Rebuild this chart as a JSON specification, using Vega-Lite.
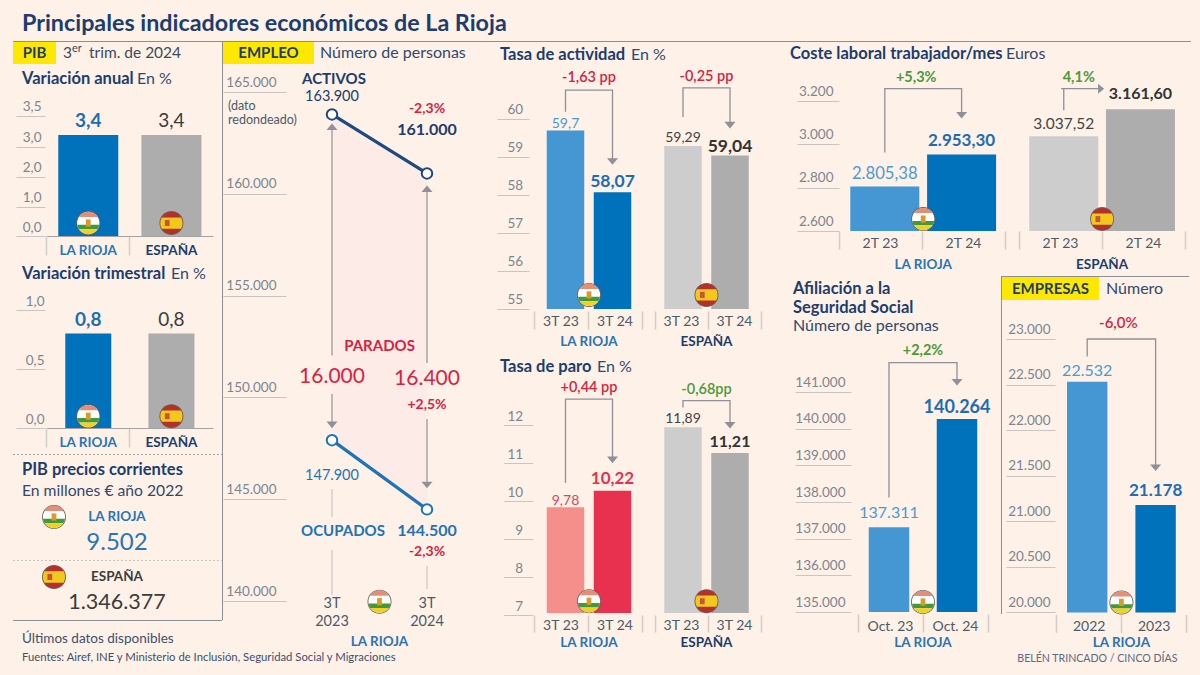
{"$schema":"https://vega.github.io/schema/vega-lite/v6.json","background":"#fdf1e8","padding":{"left":12,"top":0,"right":10,"bottom":10},"bounds":"flush","spacing":0,
"config":{"font":"Lato","view":{"stroke":null},"axisY":{"domain":false,"grid":false,"labelBaseline":"bottom","labelColor":"#7d8590","tickColor":"#c9c5c2","labelFontSize":13.5,"labelPadding":0},"axisX":{"domain":false,"grid":false,"bandPosition":0,"labelAngle":0,"tickColor":"#d2cdc8","tickWidth":1.5,"labelBaseline":"middle","labelFontSize":14,"labelColor":"#4e5a68"}},
"vconcat":[
{"width":2,"height":41,"data":{"values":[{}]},"mark":{"type":"text","text":"Principales indicadores económicos de La Rioja","align":"left","dx":8,"dy":3,"fontSize":23.3,"fontWeight":"bold","color":"#1c3d6e"}},
{"width":1178,"height":1,"view":{"fill":"#8b8f96","stroke":null},"data":{"values":[{}]},"mark":{"type":"text","text":""}},
{"hconcat":[
{"vconcat":[
{"hconcat":[
{"width":43,"height":22,"view":{"fill":"#ffe800","stroke":null},"data":{"values":[{}]},"mark":{"type":"text","text":"PIB","fontWeight":"bold","fontSize":15,"color":"#1c3d6e"}},
{"width":2,"height":22,"data":{"values":[{}]},"layer":[{"mark":{"type":"text","text":"3","align":"left","dx":6,"fontSize":15.5,"color":"#3f4a5c"}},{"mark":{"type":"text","text":"er","align":"left","dx":15,"dy":-4,"fontSize":11,"color":"#3f4a5c"}},{"mark":{"type":"text","text":"trim. de 2024","align":"left","dx":32,"fontSize":15.5,"color":"#3f4a5c"}}]}
],"bounds":"flush","spacing":0},
{"width":1,"height":22,"data":{"values":[{}]},"mark":{"type":"text","text":""}},
{"width":2,"height":30,"data":{"values":[{}]},"layer":[{"mark":{"type":"text","text":"Variación anual","align":"left","dx":8,"fontSize":16.5,"fontWeight":"bold","color":"#1c3d6e"}},{"mark":{"type":"text","text":"En %","align":"left","dx":123,"fontSize":16,"color":"#33486e"}}]},
{"width":1,"height":21,"data":{"values":[{}]},"mark":{"type":"text","text":""}},
{"width":209,"height":121,"data":{"values":[{"c":"LA RIOJA","v":3.4,"t":"3,4"},{"c":"ESPAÑA","v":3.4,"t":"3,4"}]},
"encoding":{"x":{"field":"c","type":"nominal","sort":null,"scale":{"domain":["LA RIOJA","ESPAÑA"],"range":[33.7,200],"padding":0},"axis":{"title":null,"domain":true,"domainColor":"#a3a3a3","tickSize":19,"labelPadding":-5,"labelFontWeight":"bold","labelFontSize":13.5,"labelColor":{"condition":{"test":"datum.value=='LA RIOJA'","value":"#2a74b8"},"value":"#1c3d6e"}}},"y":{"field":"v","type":"quantitative","scale":{"domain":[0,1,2,3,3.4,3.5],"range":[121,91.5,61.5,31.5,20,0.5]},"axis":{"title":null,"values":[0,1,2,3,3.5],"offset":-32,"tickSize":29,"labelPadding":-25,"labelOffset":-2,"labelExpr":"replace(format(datum.value,'.1f'),'.',',')"}}},
"layer":[
{"mark":{"type":"bar","size":60},"encoding":{"color":{"condition":{"test":"datum.c=='LA RIOJA'","value":"#0071bb"},"value":"#adadad"}}},
{"transform":[{"filter":"datum.c=='LA RIOJA'"}],"mark":{"type":"text","baseline":"bottom","dy":-4,"fontSize":19,"fontWeight":"bold","color":"#1c6db5"},"encoding":{"text":{"field":"t"}}},
{"transform":[{"filter":"datum.c=='ESPAÑA'"}],"mark":{"type":"text","baseline":"bottom","dy":-4,"fontSize":19,"color":"#3c3c3c"},"encoding":{"text":{"field":"t"}}},
{"data":{"values":[{"c":"LA RIOJA","v":0.44,"p":["d","w","r","g","o","e"]},{"c":"ESPAÑA","v":0.44,"p":["d","R","Y","E"]}]},"transform":[{"flatten":["p"]}],"mark":{"type":"point","filled":true,"opacity":1,"size":576},"encoding":{"shape":{"field":"p","type":"nominal","legend":null,"scale":{"domain":["d","w","r","g","o","e","R","Y","E"],"range":["M-1,0A1,1 0 1 1 1,0A1,1 0 1 1 -1,0Z","M-.93,0A.93,.93 0 1 1 .93,0A.93,.93 0 1 1 -.93,0Z","M-.784,-.5A.93,.93 0 0 1 .784,-.5Z","M-.918,.15H.918A.93,.93 0 0 1 .771,.52H-.771A.93,.93 0 0 1 -.918,.15Z","M-.771,.52H.771A.93,.93 0 0 1 -.771,.52Z","M-.2,-.3H.2V.3H-.2Z","M-.93,0A.93,.93 0 1 1 .93,0A.93,.93 0 1 1 -.93,0Z","M-.8025,-.47H.8025A.93,.93 0 0 1 .8025,.47H-.8025A.93,.93 0 0 1 -.8025,-.47Z","M-.55,-.25H-.15V.25H-.55Z"]}},"color":{"field":"p","type":"nominal","legend":null,"scale":{"domain":["d","w","r","g","o","e","R","Y","E"],"range":["#6d6258","#ffffff","#e58d76","#3f9a3c","#f2d21f","#d99a2b","#b5302a","#f3c81c","#c8553a"]}}}}
]},
{"width":2,"height":74,"data":{"values":[{}]},"layer":[{"mark":{"type":"text","text":"Variación trimestral","align":"left","dx":8,"dy":1,"fontSize":16.5,"fontWeight":"bold","color":"#1c3d6e"}},{"mark":{"type":"text","text":"En %","align":"left","dx":157,"dy":1,"fontSize":16,"color":"#33486e"}}]},
{"width":209,"height":118,"data":{"values":[{"c":"LA RIOJA","v":0.8,"t":"0,8"},{"c":"ESPAÑA","v":0.8,"t":"0,8"}]},
"encoding":{"x":{"field":"c","type":"nominal","sort":null,"scale":{"domain":["LA RIOJA","ESPAÑA"],"range":[33.7,200],"padding":0},"axis":{"title":null,"domain":true,"domainColor":"#a3a3a3","tickSize":19,"labelPadding":-5,"labelFontWeight":"bold","labelFontSize":13.5,"labelColor":{"condition":{"test":"datum.value=='LA RIOJA'","value":"#2a74b8"},"value":"#1c3d6e"}}},"y":{"field":"v","type":"quantitative","scale":{"domain":[0,1]},"axis":{"title":null,"values":[0,0.5,1],"offset":-32,"tickSize":29,"labelPadding":-28,"labelOffset":-2,"labelExpr":"replace(format(datum.value,'.1f'),'.',',')"}}},
"layer":[
{"mark":{"type":"bar","size":46},"encoding":{"color":{"condition":{"test":"datum.c=='LA RIOJA'","value":"#0071bb"},"value":"#adadad"}}},
{"transform":[{"filter":"datum.c=='LA RIOJA'"}],"mark":{"type":"text","baseline":"bottom","dy":-4,"fontSize":19,"fontWeight":"bold","color":"#1c6db5"},"encoding":{"text":{"field":"t"}}},
{"transform":[{"filter":"datum.c=='ESPAÑA'"}],"mark":{"type":"text","baseline":"bottom","dy":-4,"fontSize":19,"color":"#3c3c3c"},"encoding":{"text":{"field":"t"}}},
{"data":{"values":[{"c":"LA RIOJA","v":0.1,"p":["d","w","r","g","o","e"]},{"c":"ESPAÑA","v":0.1,"p":["d","R","Y","E"]}]},"transform":[{"flatten":["p"]}],"mark":{"type":"point","filled":true,"opacity":1,"size":576},"encoding":{"shape":{"field":"p","type":"nominal","legend":null},"color":{"field":"p","type":"nominal","legend":null}}}
]},
{"width":1,"height":26,"data":{"values":[{}]},"mark":{"type":"text","text":""}},
{"width":209,"height":1,"mark":{"type":"rule","strokeDash":[2,2],"color":"#a5a09a"},"data":{"values":[{}]},"encoding":{"x":{"datum":0,"type":"quantitative","scale":{"domain":[0,1]},"axis":null},"x2":{"datum":1}}},
{"width":2,"height":30,"data":{"values":[{}]},"mark":{"type":"text","text":"PIB precios corrientes","align":"left","dx":8,"fontSize":16.5,"fontWeight":"bold","color":"#1c3d6e"}},
{"width":2,"height":12,"data":{"values":[{}]},"mark":{"type":"text","text":"En millones € año 2022","align":"left","dx":8,"fontSize":15.7,"color":"#33486e"}},
{"width":1,"height":8,"data":{"values":[{}]},"mark":{"type":"text","text":""}},
{"width":82,"height":24,"layer":[{"data":{"values":[{"p":["d","w","r","g","o","e"]}]},"transform":[{"flatten":["p"]}],"mark":{"type":"point","filled":true,"opacity":1,"size":576},"encoding":{"shape":{"field":"p","type":"nominal","legend":null},"color":{"field":"p","type":"nominal","legend":null}}},{"data":{"values":[{}]},"mark":{"type":"text","text":"LA RIOJA","dx":63,"fontSize":13.5,"fontWeight":"bold","color":"#2a74b8"}}]},
{"width":2,"height":26,"data":{"values":[{}]},"mark":{"type":"text","text":"9.502","dx":103,"dy":1,"fontSize":24,"color":"#2a74b8"}},
{"width":1,"height":5,"data":{"values":[{}]},"mark":{"type":"text","text":""}},
{"width":209,"height":1,"mark":{"type":"rule","strokeDash":[2,2],"color":"#c9c4be"},"data":{"values":[{}]},"encoding":{"x":{"datum":0,"type":"quantitative","scale":{"domain":[0,1]},"axis":null},"x2":{"datum":1}}},
{"width":82,"height":32,"layer":[{"data":{"values":[{"p":["d","R","Y","E"]}]},"transform":[{"flatten":["p"]}],"mark":{"type":"point","filled":true,"opacity":1,"size":576},"encoding":{"shape":{"field":"p","type":"nominal","legend":null},"color":{"field":"p","type":"nominal","legend":null}}},{"data":{"values":[{}]},"mark":{"type":"text","text":"ESPAÑA","dx":63,"fontSize":13.5,"fontWeight":"bold","color":"#3c3c3c"}}]},
{"width":2,"height":20,"data":{"values":[{}]},"mark":{"type":"text","text":"1.346.377","dx":103,"fontSize":21.5,"color":"#3c3c3c"}},
{"width":1,"height":7,"data":{"values":[{}]},"mark":{"type":"text","text":""}},
{"width":209,"height":1,"view":{"fill":"#8b8f96","stroke":null},"data":{"values":[{}]},"mark":{"type":"text","text":""}},
{"width":2,"height":36,"data":{"values":[{}]},"mark":{"type":"text","text":"Últimos datos disponibles","align":"left","dx":8,"fontSize":13.5,"color":"#3f4f6b"}},
{"width":2,"height":2,"data":{"values":[{}]},"mark":{"type":"text","text":"Fuentes: Airef, INE y Ministerio de Inclusión, Seguridad Social y Migraciones","align":"left","dx":8,"fontSize":11.3,"color":"#3f4f6b"}}
],"bounds":"flush","spacing":0},
{"width":209,"height":1,"data":{"values":[{}]},"mark":{"type":"text","text":""}},
{"width":1,"height":578,"view":{"fill":"#8b8f96","stroke":null},"data":{"values":[{}]},"mark":{"type":"text","text":""}},
{"vconcat":[
{"hconcat":[
{"width":91,"height":22,"view":{"fill":"#ffe800","stroke":null},"data":{"values":[{}]},"mark":{"type":"text","text":"EMPLEO","fontWeight":"bold","fontSize":15,"color":"#1c3d6e"}},
{"width":2,"height":22,"data":{"values":[{}]},"mark":{"type":"text","text":"Número de personas","align":"left","dx":5,"fontSize":16,"color":"#33486e"}}
],"bounds":"flush","spacing":0},
{"width":1,"height":50,"data":{"values":[{}]},"mark":{"type":"text","text":""}},
{"width":268,"height":509,
"encoding":{"x":{"field":"c","type":"nominal","scale":{"domain":["3T 2023","3T 2024"],"range":[61.5,251.5],"padding":0},"axis":null},"y":{"field":"v","type":"quantitative","scale":{"domain":[140000,165000]},"axis":{"title":null,"values":[140000,145000,150000,155000,160000,165000],"offset":-63,"tickSize":63,"labelPadding":-53,"labelOffset":-3,"labelExpr":"replace(format(datum.value,','),',','.')"}}},
"layer":[
{"data":{"values":[{"c":"3T 2023","v":163900,"v2":147900},{"c":"3T 2024","v":161000,"v2":144500}]},"mark":{"type":"area","color":"#fcebe7"},"encoding":{"y2":{"field":"v2"}}},
{"data":{"values":[{"c":"3T 2023","v":163292,"v2":152054},{"c":"3T 2024","v":160246,"v2":151695},{"c":"3T 2023","v":150172,"v2":148649},{"c":"3T 2024","v":148943,"v2":145700}]},"mark":{"type":"rule","color":"#9a9a9e","strokeWidth":1.3},"encoding":{"y2":{"field":"v2"}}},
{"data":{"values":[{"c":"3T 2023","v":145504,"v2":144128},{"c":"3T 2023","v":142506,"v2":140295},{"c":"3T 2024","v":141720,"v2":140590}]},"mark":{"type":"rule","color":"#cfcac6","strokeWidth":1.3},"encoding":{"y2":{"field":"v2"}}},
{"data":{"values":[{"c":"3T 2023","v":163292},{"c":"3T 2024","v":160246}]},"mark":{"type":"point","filled":true,"opacity":1,"size":121,"color":"#8f9098","shape":"M-1,.6H1L0,-.6Z"}},
{"data":{"values":[{"c":"3T 2023","v":148649},{"c":"3T 2024","v":145700}]},"mark":{"type":"point","filled":true,"opacity":1,"size":121,"color":"#8f9098","shape":"M-1,-.6H1L0,.6Z"}},
{"data":{"values":[{"c":"3T 2023","v":163900},{"c":"3T 2024","v":161000}]},"mark":{"type":"line","color":"#1d4a80","strokeWidth":3.2}},
{"data":{"values":[{"c":"3T 2023","v":147900},{"c":"3T 2024","v":144500}]},"mark":{"type":"line","color":"#1f73b7","strokeWidth":3.2}},
{"data":{"values":[{"c":"3T 2023","v":163900},{"c":"3T 2024","v":161000}]},"mark":{"type":"point","filled":true,"opacity":1,"fill":"#ffffff","stroke":"#1d4a80","strokeWidth":2,"size":110}},
{"data":{"values":[{"c":"3T 2023","v":147900},{"c":"3T 2024","v":144500}]},"mark":{"type":"point","filled":true,"opacity":1,"fill":"#ffffff","stroke":"#1f73b7","strokeWidth":2,"size":110}},
{"data":{"values":[{"c":"3T 2023","v":165651,"t":"ACTIVOS"}]},"mark":{"type":"text","dx":2,"fontSize":15,"fontWeight":"bold","color":"#1c3d6e"},"encoding":{"text":{"field":"t"}}},
{"data":{"values":[{"c":"3T 2023","v":164733,"t":"163.900"}]},"mark":{"type":"text","fontSize":14.5,"color":"#1c3d6e"},"encoding":{"text":{"field":"t"}}},
{"data":{"values":[{"c":"3T 2023","v":164290,"t":"(dato"},{"c":"3T 2023","v":163602,"t":"redondeado)"}]},"mark":{"type":"text","align":"left","dx":-104,"fontSize":12.5,"color":"#4e5a68"},"encoding":{"text":{"field":"t"}}},
{"data":{"values":[{"c":"3T 2024","v":164162,"t":"-2,3%"},{"c":"3T 2024","v":149646,"t":"+2,5%"},{"c":"3T 2024","v":142393,"t":"-2,3%"}]},"mark":{"type":"text","fontSize":14,"fontWeight":"bold","color":"#d8233f"},"encoding":{"text":{"field":"t"}}},
{"data":{"values":[{"c":"3T 2024","v":163145,"t":"161.000"}]},"mark":{"type":"text","fontSize":16,"fontWeight":"bold","color":"#1c3d6e"},"encoding":{"text":{"field":"t"}}},
{"data":{"values":[{"c":"3T 2023","v":152546,"t":"PARADOS"}]},"mark":{"type":"text","fontSize":15,"fontWeight":"bold","color":"#d8233f"},"encoding":{"x":{"field":"c","type":"nominal","bandPosition":1,"axis":null},"text":{"field":"t"}}},
{"data":{"values":[{"c":"3T 2023","v":150993,"t":"16.000"},{"c":"3T 2024","v":150909,"t":"16.400"}]},"mark":{"type":"text","fontSize":21,"color":"#d8233f"},"encoding":{"text":{"field":"t"}}},
{"data":{"values":[{"c":"3T 2023","v":146157,"t":"147.900"}]},"mark":{"type":"text","fontSize":14.5,"color":"#1f73b7"},"encoding":{"text":{"field":"t"}}},
{"data":{"values":[{"c":"3T 2023","v":143425,"t":"OCUPADOS"}]},"mark":{"type":"text","dx":11,"fontSize":15,"fontWeight":"bold","color":"#1f73b7"},"encoding":{"text":{"field":"t"}}},
{"data":{"values":[{"c":"3T 2024","v":143425,"t":"144.500"}]},"mark":{"type":"text","fontSize":16,"fontWeight":"bold","color":"#1f73b7"},"encoding":{"text":{"field":"t"}}},
{"data":{"values":[{"c":"3T 2023","v":139867,"t":"3T"},{"c":"3T 2023","v":138953,"t":"2023"},{"c":"3T 2024","v":139867,"t":"3T"},{"c":"3T 2024","v":138953,"t":"2024"}]},"mark":{"type":"text","fontSize":14.5,"color":"#4e5a68"},"encoding":{"text":{"field":"t"}}},
{"data":{"values":[{"c":"3T 2023","v":137971,"t":"LA RIOJA"}]},"mark":{"type":"text","fontSize":13.5,"fontWeight":"bold","color":"#2a74b8"},"encoding":{"x":{"field":"c","type":"nominal","bandPosition":1,"axis":null},"text":{"field":"t"}}},
{"data":{"values":[{"c":"3T 2023","v":139965,"p":["d","w","r","g","o","e"]}]},"transform":[{"flatten":["p"]}],"mark":{"type":"point","filled":true,"opacity":1,"size":576},"encoding":{"x":{"field":"c","type":"nominal","bandPosition":1,"axis":null},"shape":{"field":"p","type":"nominal","legend":null},"color":{"field":"p","type":"nominal","legend":null}}}
]}
],"bounds":"flush","spacing":0},
{"width":268,"height":1,"data":{"values":[{}]},"mark":{"type":"text","text":""}},
{"vconcat":[
{"width":2,"height":26,"data":{"values":[{}]},"layer":[{"mark":{"type":"text","text":"Tasa de actividad","align":"left","dx":8,"fontSize":16.5,"fontWeight":"bold","color":"#1c3d6e"}},{"mark":{"type":"text","text":"En %","align":"left","dx":139,"fontSize":16,"color":"#33486e"}}]},
{"width":1,"height":51,"data":{"values":[{}]},"mark":{"type":"text","text":""}},
{"hconcat":[
{"width":164,"height":190,"resolve":{"scale":{"x":"independent"}},"layer":[
{"data":{"values":[{"c":"3T 23"},{"c":"3T 24"}]},"mark":{"type":"text","text":""},"encoding":{"x":{"field":"c","type":"nominal","scale":{"type":"band","domain":["3T 23","3T 24","_"],"range":[43,205],"padding":0},"axis":{"title":null,"offset":2,"tickSize":18,"labelPadding":-7.6,"labelExpr":"datum.value=='_'?'':datum.label"}}}},
{"data":{"values":[{"c":"3T 23","v":59.7,"t":"59,7"},{"c":"3T 24","v":58.07,"t":"58,07"}]},"encoding":{"x":{"field":"c","type":"nominal","scale":{"domain":["3T 23","3T 24"],"range":[51,145],"padding":0},"axis":null},"y":{"field":"v","type":"quantitative","scale":{"domain":[55,60]},"axis":{"title":null,"values":[55,56,57,58,59,60],"offset":-38,"tickSize":32,"labelPadding":-25.7,"labelOffset":-3}}},
"layer":[
{"mark":{"type":"bar","size":37.5},"encoding":{"y2":{"datum":55},"color":{"condition":{"test":"datum.c=='3T 23'","value":"#4597d3"},"value":"#0071bb"}}},
{"transform":[{"filter":"datum.c=='3T 23'"}],"mark":{"type":"text","baseline":"bottom","dy":1,"fontSize":14,"color":"#4b9ad5"},"encoding":{"text":{"field":"t"}}},
{"transform":[{"filter":"datum.c=='3T 24'"}],"mark":{"type":"text","baseline":"bottom","dy":-1,"fontSize":17.5,"fontWeight":"bold","color":"#1c6db5"},"encoding":{"text":{"field":"t"}}},
{"data":{"values":[{"c":"3T 23","v":60.19,"i":0},{"c":"3T 23","v":60.76,"i":1},{"c":"3T 24","v":60.76,"i":2},{"c":"3T 24","v":58.88,"i":3}]},"mark":{"type":"line","color":"#8f9098","strokeWidth":1.3},"encoding":{"order":{"field":"i","type":"quantitative"}}},
{"data":{"values":[{"c":"3T 24","v":58.88}]},"mark":{"type":"point","filled":true,"opacity":1,"size":121,"color":"#8f9098","shape":"M-1,-.6H1L0,.6Z"}},
{"data":{"values":[{"c":"3T 23","v":61.08,"t":"-1,63 pp"}]},"mark":{"type":"text","fontSize":14.5,"fontWeight":600,"color":"#d8233f"},"encoding":{"x":{"field":"c","type":"nominal","bandPosition":1,"axis":null},"text":{"field":"t"}}},
{"data":{"values":[{"c":"3T 23","v":54.12,"t":"LA RIOJA"}]},"mark":{"type":"text","fontSize":13.5,"fontWeight":"bold","color":"#2a74b8"},"encoding":{"x":{"field":"c","type":"nominal","bandPosition":1,"axis":null},"text":{"field":"t"}}},
{"data":{"values":[{"c":"3T 23","v":55.37,"p":["d","w","r","g","o","e"]}]},"transform":[{"flatten":["p"]}],"mark":{"type":"point","filled":true,"opacity":1,"size":576},"encoding":{"x":{"field":"c","type":"nominal","bandPosition":1,"axis":null},"shape":{"field":"p","type":"nominal","legend":null},"color":{"field":"p","type":"nominal","legend":null}}}
]}]},
{"width":130,"height":190,"resolve":{"scale":{"x":"independent"}},"layer":[
{"data":{"values":[{"c":"3T 23"},{"c":"3T 24"}]},"mark":{"type":"text","text":""},"encoding":{"x":{"field":"c","type":"nominal","scale":{"type":"band","domain":["3T 23","3T 24","_"],"range":[0,159],"padding":0},"axis":{"title":null,"offset":2,"tickSize":18,"labelPadding":-7.6,"labelExpr":"datum.value=='_'?'':datum.label"}}}},
{"data":{"values":[{"c":"3T 23","v":59.29,"t":"59,29"},{"c":"3T 24","v":59.04,"t":"59,04"}]},"encoding":{"x":{"field":"c","type":"nominal","scale":{"domain":["3T 23","3T 24"],"range":[4.5,98.5],"padding":0},"axis":null},"y":{"field":"v","type":"quantitative","scale":{"domain":[55,60]},"axis":null}},
"layer":[
{"mark":{"type":"bar","size":37.5},"encoding":{"y2":{"datum":55},"color":{"condition":{"test":"datum.c=='3T 23'","value":"#cdcdcd"},"value":"#adadad"}}},
{"transform":[{"filter":"datum.c=='3T 23'"}],"mark":{"type":"text","baseline":"bottom","dy":-1,"fontSize":14,"color":"#444444"},"encoding":{"text":{"field":"t"}}},
{"transform":[{"filter":"datum.c=='3T 24'"}],"mark":{"type":"text","baseline":"bottom","dy":1,"fontSize":17.5,"fontWeight":"bold","color":"#333333"},"encoding":{"text":{"field":"t"}}},
{"data":{"values":[{"c":"3T 23","v":60.05,"i":0},{"c":"3T 23","v":60.82,"i":1},{"c":"3T 24","v":60.82,"i":2},{"c":"3T 24","v":59.84,"i":3}]},"mark":{"type":"line","color":"#8f9098","strokeWidth":1.3},"encoding":{"order":{"field":"i","type":"quantitative"}}},
{"data":{"values":[{"c":"3T 24","v":59.84}]},"mark":{"type":"point","filled":true,"opacity":1,"size":121,"color":"#8f9098","shape":"M-1,-.6H1L0,.6Z"}},
{"data":{"values":[{"c":"3T 23","v":61.1,"t":"-0,25 pp"}]},"mark":{"type":"text","fontSize":14.5,"fontWeight":600,"color":"#d8233f"},"encoding":{"x":{"field":"c","type":"nominal","bandPosition":1,"axis":null},"text":{"field":"t"}}},
{"data":{"values":[{"c":"3T 23","v":54.12,"t":"ESPAÑA"}]},"mark":{"type":"text","fontSize":13.5,"fontWeight":"bold","color":"#1c3d6e"},"encoding":{"x":{"field":"c","type":"nominal","bandPosition":1,"axis":null},"text":{"field":"t"}}},
{"data":{"values":[{"c":"3T 23","v":55.37,"p":["d","R","Y","E"]}]},"transform":[{"flatten":["p"]}],"mark":{"type":"point","filled":true,"opacity":1,"size":576},"encoding":{"x":{"field":"c","type":"nominal","bandPosition":1,"axis":null},"shape":{"field":"p","type":"nominal","legend":null},"color":{"field":"p","type":"nominal","legend":null}}}
]}]}
],"bounds":"flush","spacing":0},
{"width":1,"height":190,"data":{"values":[{}]},"mark":{"type":"text","text":""}},
{"width":2,"height":114,"data":{"values":[{}]},"layer":[{"mark":{"type":"text","text":"Tasa de paro","align":"left","dx":8,"dy":1,"fontSize":16.5,"fontWeight":"bold","color":"#1c3d6e"}},{"mark":{"type":"text","text":"En %","align":"left","dx":105,"dy":1,"fontSize":16,"color":"#33486e"}}]},
{"hconcat":[
{"width":164,"height":190,"resolve":{"scale":{"x":"independent"}},"layer":[
{"data":{"values":[{"c":"3T 23"},{"c":"3T 24"}]},"mark":{"type":"text","text":""},"encoding":{"x":{"field":"c","type":"nominal","scale":{"type":"band","domain":["3T 23","3T 24","_"],"range":[43,205],"padding":0},"axis":{"title":null,"offset":2,"tickSize":17,"labelPadding":-6.3,"labelExpr":"datum.value=='_'?'':datum.label"}}}},
{"data":{"values":[{"c":"3T 23","v":9.78,"t":"9,78"},{"c":"3T 24","v":10.22,"t":"10,22"}]},"encoding":{"x":{"field":"c","type":"nominal","scale":{"domain":["3T 23","3T 24"],"range":[51,145],"padding":0},"axis":null},"y":{"field":"v","type":"quantitative","scale":{"domain":[7,12]},"axis":{"title":null,"values":[7,8,9,10,11,12],"offset":-41.7,"tickSize":29,"labelPadding":-19,"tickOffset":2,"labelOffset":-2}}},
"layer":[
{"mark":{"type":"bar","size":37.5},"encoding":{"y2":{"datum":7},"color":{"condition":{"test":"datum.c=='3T 23'","value":"#f58f8c"},"value":"#e8304f"}}},
{"transform":[{"filter":"datum.c=='3T 23'"}],"mark":{"type":"text","baseline":"bottom","dy":1,"fontSize":14,"color":"#d8485a"},"encoding":{"text":{"field":"t"}}},
{"transform":[{"filter":"datum.c=='3T 24'"}],"mark":{"type":"text","baseline":"bottom","dy":-3,"fontSize":17,"fontWeight":"bold","color":"#e8304f"},"encoding":{"text":{"field":"t"}}},
{"data":{"values":[{"c":"3T 23","v":10.42,"i":0},{"c":"3T 23","v":12.63,"i":1},{"c":"3T 24","v":12.63,"i":2},{"c":"3T 24","v":11.03,"i":3}]},"mark":{"type":"line","color":"#8f9098","strokeWidth":1.3},"encoding":{"order":{"field":"i","type":"quantitative"}}},
{"data":{"values":[{"c":"3T 24","v":11.03}]},"mark":{"type":"point","filled":true,"opacity":1,"size":121,"color":"#8f9098","shape":"M-1,-.6H1L0,.6Z"}},
{"data":{"values":[{"c":"3T 23","v":12.92,"t":"+0,44 pp"}]},"mark":{"type":"text","fontSize":14.5,"fontWeight":600,"color":"#d8233f"},"encoding":{"x":{"field":"c","type":"nominal","bandPosition":1,"axis":null},"text":{"field":"t"}}},
{"data":{"values":[{"c":"3T 23","v":6.21,"t":"LA RIOJA"}]},"mark":{"type":"text","fontSize":13.5,"fontWeight":"bold","color":"#2a74b8"},"encoding":{"x":{"field":"c","type":"nominal","bandPosition":1,"axis":null},"text":{"field":"t"}}},
{"data":{"values":[{"c":"3T 23","v":7.31,"p":["d","w","r","g","o","e"]}]},"transform":[{"flatten":["p"]}],"mark":{"type":"point","filled":true,"opacity":1,"size":576},"encoding":{"x":{"field":"c","type":"nominal","bandPosition":1,"axis":null},"shape":{"field":"p","type":"nominal","legend":null},"color":{"field":"p","type":"nominal","legend":null}}}
]}]},
{"width":130,"height":190,"resolve":{"scale":{"x":"independent"}},"layer":[
{"data":{"values":[{"c":"3T 23"},{"c":"3T 24"}]},"mark":{"type":"text","text":""},"encoding":{"x":{"field":"c","type":"nominal","scale":{"type":"band","domain":["3T 23","3T 24","_"],"range":[0,159],"padding":0},"axis":{"title":null,"offset":2,"tickSize":17,"labelPadding":-6.3,"labelExpr":"datum.value=='_'?'':datum.label"}}}},
{"data":{"values":[{"c":"3T 23","v":11.89,"t":"11,89"},{"c":"3T 24","v":11.21,"t":"11,21"}]},"encoding":{"x":{"field":"c","type":"nominal","scale":{"domain":["3T 23","3T 24"],"range":[4.5,98.5],"padding":0},"axis":null},"y":{"field":"v","type":"quantitative","scale":{"domain":[7,12]},"axis":null}},
"layer":[
{"mark":{"type":"bar","size":37.5},"encoding":{"y2":{"datum":7},"color":{"condition":{"test":"datum.c=='3T 23'","value":"#cdcdcd"},"value":"#adadad"}}},
{"transform":[{"filter":"datum.c=='3T 23'"}],"mark":{"type":"text","baseline":"bottom","dy":-1,"fontSize":14,"color":"#444444"},"encoding":{"text":{"field":"t"}}},
{"transform":[{"filter":"datum.c=='3T 24'"}],"mark":{"type":"text","baseline":"bottom","dy":-3,"fontSize":16,"fontWeight":"bold","color":"#333333"},"encoding":{"text":{"field":"t"}}},
{"data":{"values":[{"c":"3T 23","v":12.41,"i":0},{"c":"3T 23","v":12.59,"i":1},{"c":"3T 24","v":12.59,"i":2},{"c":"3T 24","v":11.94,"i":3}]},"mark":{"type":"line","color":"#8f9098","strokeWidth":1.3},"encoding":{"order":{"field":"i","type":"quantitative"}}},
{"data":{"values":[{"c":"3T 24","v":11.94}]},"mark":{"type":"point","filled":true,"opacity":1,"size":121,"color":"#8f9098","shape":"M-1,-.6H1L0,.6Z"}},
{"data":{"values":[{"c":"3T 23","v":12.88,"t":"-0,68pp"}]},"mark":{"type":"text","fontSize":14.5,"fontWeight":600,"color":"#4c9a3c"},"encoding":{"x":{"field":"c","type":"nominal","bandPosition":1,"axis":null},"text":{"field":"t"}}},
{"data":{"values":[{"c":"3T 23","v":6.21,"t":"ESPAÑA"}]},"mark":{"type":"text","fontSize":13.5,"fontWeight":"bold","color":"#1c3d6e"},"encoding":{"x":{"field":"c","type":"nominal","bandPosition":1,"axis":null},"text":{"field":"t"}}},
{"data":{"values":[{"c":"3T 23","v":7.31,"p":["d","R","Y","E"]}]},"transform":[{"flatten":["p"]}],"mark":{"type":"point","filled":true,"opacity":1,"size":576},"encoding":{"x":{"field":"c","type":"nominal","bandPosition":1,"axis":null},"shape":{"field":"p","type":"nominal","legend":null},"color":{"field":"p","type":"nominal","legend":null}}}
]}]}
],"bounds":"flush","spacing":0}
],"bounds":"flush","spacing":0},
{"width":290,"height":1,"data":{"values":[{}]},"mark":{"type":"text","text":""}},
{"vconcat":[
{"width":2,"height":26,"data":{"values":[{}]},"layer":[{"mark":{"type":"text","text":"Coste laboral trabajador/mes","align":"left","dx":8,"dy":-1,"fontSize":16.5,"fontWeight":"bold","color":"#1c3d6e"}},{"mark":{"type":"text","text":"Euros","align":"left","dx":224,"dy":-1,"fontSize":16,"color":"#33486e"}}]},
{"width":1,"height":32.7,"data":{"values":[{}]},"mark":{"type":"text","text":""}},
{"hconcat":[
{"width":222,"height":130,"resolve":{"scale":{"x":"independent"}},"layer":[
{"data":{"values":[{"c":"2T 23"},{"c":"2T 24"}]},"mark":{"type":"text","text":""},"encoding":{"x":{"field":"c","type":"nominal","scale":{"type":"band","domain":["2T 23","2T 24","_"],"range":[58,307],"padding":0},"axis":{"title":null,"tickSize":18,"labelPadding":-5.4,"labelExpr":"datum.value=='_'?'':datum.label"}}}},
{"data":{"values":[{"c":"2T 23","v":2805.38,"t":"2.805,38"},{"c":"2T 24","v":2953.3,"t":"2.953,30"}]},"encoding":{"x":{"field":"c","type":"nominal","scale":{"domain":["2T 23","2T 24"],"range":[65.4,219],"padding":0},"axis":null},"y":{"field":"v","type":"quantitative","scale":{"domain":[2600,3200]},"axis":{"title":null,"values":[2600,2800,3000,3200],"offset":-58,"tickSize":42,"labelPadding":-36,"labelOffset":-3,"labelExpr":"replace(format(datum.value,','),',','.')"}}},
"layer":[
{"mark":{"type":"bar","size":69},"encoding":{"y2":{"datum":2600},"color":{"condition":{"test":"datum.c=='2T 23'","value":"#4597d3"},"value":"#0071bb"}}},
{"transform":[{"filter":"datum.c=='2T 23'"}],"mark":{"type":"text","baseline":"bottom","dy":-4,"fontSize":16.7,"color":"#4b9ad5"},"encoding":{"text":{"field":"t"}}},
{"transform":[{"filter":"datum.c=='2T 24'"}],"mark":{"type":"text","baseline":"bottom","dy":-4,"fontSize":17,"fontWeight":"bold","color":"#1c6db5"},"encoding":{"text":{"field":"t"}}},
{"data":{"values":[{"c":"2T 23","v":2962,"i":0},{"c":"2T 23","v":3257,"i":1},{"c":"2T 24","v":3257,"i":2},{"c":"2T 24","v":3134,"i":3}]},"mark":{"type":"line","color":"#8f9098","strokeWidth":1.3},"encoding":{"order":{"field":"i","type":"quantitative"}}},
{"data":{"values":[{"c":"2T 24","v":3134}]},"mark":{"type":"point","filled":true,"opacity":1,"size":121,"color":"#8f9098","shape":"M-1,-.6H1L0,.6Z"}},
{"data":{"values":[{"c":"2T 23","v":3306,"t":"+5,3%"}]},"mark":{"type":"text","dx":-7,"fontSize":14.5,"fontWeight":"bold","color":"#4c9a3c"},"encoding":{"x":{"field":"c","type":"nominal","bandPosition":1,"axis":null},"text":{"field":"t"}}},
{"data":{"values":[{"c":"2T 23","v":2445,"t":"LA RIOJA"}]},"mark":{"type":"text","fontSize":13.5,"fontWeight":"bold","color":"#2a74b8"},"encoding":{"x":{"field":"c","type":"nominal","bandPosition":1,"axis":null},"text":{"field":"t"}}},
{"data":{"values":[{"c":"2T 23","v":2655,"p":["d","w","r","g","o","e"]}]},"transform":[{"flatten":["p"]}],"mark":{"type":"point","filled":true,"opacity":1,"size":576},"encoding":{"x":{"field":"c","type":"nominal","bandPosition":1,"axis":null},"shape":{"field":"p","type":"nominal","legend":null},"color":{"field":"p","type":"nominal","legend":null}}}
]}]},
{"width":180,"height":130,"resolve":{"scale":{"x":"independent"}},"layer":[
{"data":{"values":[{"c":"2T 23"},{"c":"2T 24"}]},"mark":{"type":"text","text":""},"encoding":{"x":{"field":"c","type":"nominal","scale":{"type":"band","domain":["2T 23","2T 24","_"],"range":[16,265],"padding":0},"axis":{"title":null,"tickSize":18,"labelPadding":-5.4,"labelExpr":"datum.value=='_'?'':datum.label"}}}},
{"data":{"values":[{"c":"2T 23","v":3037.52,"t":"3.037,52"},{"c":"2T 24","v":3161.6,"t":"3.161,60"}]},"encoding":{"x":{"field":"c","type":"nominal","scale":{"domain":["2T 23","2T 24"],"range":[22.4,175.8],"padding":0},"axis":null},"y":{"field":"v","type":"quantitative","scale":{"domain":[2600,3200]},"axis":null}},
"layer":[
{"mark":{"type":"bar","size":69},"encoding":{"y2":{"datum":2600},"color":{"condition":{"test":"datum.c=='2T 23'","value":"#cdcdcd"},"value":"#adadad"}}},
{"transform":[{"filter":"datum.c=='2T 23'"}],"mark":{"type":"text","baseline":"bottom","dy":-4,"fontSize":15.5,"color":"#444444"},"encoding":{"text":{"field":"t"}}},
{"transform":[{"filter":"datum.c=='2T 24'"}],"mark":{"type":"text","baseline":"bottom","dy":-7,"fontSize":16,"fontWeight":"bold","color":"#333333"},"encoding":{"text":{"field":"t"}}},
{"data":{"values":[{"c":"2T 23","v":3157,"i":0},{"c":"2T 23","v":3257,"i":1}]},"mark":{"type":"line","color":"#8f9098","strokeWidth":1.3},"encoding":{"order":{"field":"i","type":"quantitative"}}},
{"data":{"values":[{"c":"2T 23","v":3257}]},"mark":{"type":"point","filled":true,"opacity":1,"size":4,"color":"#8f9098","shape":"M-41,-.7H-4V-5L2,0L-4,5V.7H-41Z"},"encoding":{"x":{"field":"c","type":"nominal","bandPosition":1,"axis":null}}},
{"data":{"values":[{"c":"2T 23","v":3306,"t":"4,1%"}]},"mark":{"type":"text","dx":15,"fontSize":14.5,"fontWeight":"bold","color":"#4c9a3c"},"encoding":{"text":{"field":"t"}}},
{"data":{"values":[{"c":"2T 23","v":2445,"t":"ESPAÑA"}]},"mark":{"type":"text","fontSize":13.5,"fontWeight":"bold","color":"#1c3d6e"},"encoding":{"x":{"field":"c","type":"nominal","bandPosition":1,"axis":null},"text":{"field":"t"}}},
{"data":{"values":[{"c":"2T 23","v":2655,"p":["d","R","Y","E"]}]},"transform":[{"flatten":["p"]}],"mark":{"type":"point","filled":true,"opacity":1,"size":576},"encoding":{"x":{"field":"c","type":"nominal","bandPosition":1,"axis":null},"shape":{"field":"p","type":"nominal","legend":null},"color":{"field":"p","type":"nominal","legend":null}}}
]}]}
],"bounds":"flush","spacing":0},
{"width":1,"height":130,"data":{"values":[{}]},"mark":{"type":"text","text":""}},
{"hconcat":[
{"vconcat":[
{"width":2,"height":115,"data":{"values":[{}]},"layer":[{"mark":{"type":"text","text":"Afiliación a la","align":"left","dx":11,"fontSize":16.5,"fontWeight":"bold","color":"#1c3d6e"}},{"mark":{"type":"text","text":"Seguridad Social","align":"left","dx":11,"dy":19,"fontSize":16.5,"fontWeight":"bold","color":"#1c3d6e"}},{"mark":{"type":"text","text":"Número de personas","align":"left","dx":11,"dy":37.5,"fontSize":16,"color":"#33486e"}}]},
{"width":1,"height":45.7,"data":{"values":[{}]},"mark":{"type":"text","text":""}},
{"width":220,"height":220,"resolve":{"scale":{"x":"independent"}},"layer":[
{"data":{"values":[{"c":"Oct. 23"},{"c":"Oct. 24"}]},"mark":{"type":"text","text":""},"encoding":{"x":{"field":"c","type":"nominal","scale":{"type":"band","domain":["Oct. 23","Oct. 24","_"],"range":[77,272],"padding":0},"axis":{"title":null,"offset":2,"tickSize":18,"labelPadding":-5.7,"labelExpr":"datum.value=='_'?'':datum.label"}}}},
{"data":{"values":[{"c":"Oct. 23","v":137311,"t":"137.311"},{"c":"Oct. 24","v":140264,"t":"140.264"}]},"encoding":{"x":{"field":"c","type":"nominal","scale":{"domain":["Oct. 23","Oct. 24"],"range":[74,210],"padding":0},"axis":null},"y":{"field":"v","type":"quantitative","scale":{"domain":[135000,141000]},"axis":{"title":null,"values":[135000,136000,137000,138000,139000,140000,141000],"offset":-70,"tickSize":56,"labelPadding":-50,"labelOffset":-3,"labelExpr":"replace(format(datum.value,','),',','.')"}}},
"layer":[
{"mark":{"type":"bar","size":40.5},"encoding":{"y2":{"datum":135000},"color":{"condition":{"test":"datum.c=='Oct. 23'","value":"#4597d3"},"value":"#0071bb"}}},
{"transform":[{"filter":"datum.c=='Oct. 23'"}],"mark":{"type":"text","baseline":"bottom","dy":-6,"fontSize":16,"color":"#4b9ad5"},"encoding":{"text":{"field":"t"}}},
{"transform":[{"filter":"datum.c=='Oct. 24'"}],"mark":{"type":"text","baseline":"bottom","dy":-2,"fontSize":18,"fontWeight":"bold","color":"#1c6db5"},"encoding":{"text":{"field":"t"}}},
{"data":{"values":[{"c":"Oct. 23","v":138120,"i":0},{"c":"Oct. 23","v":141801,"i":1},{"c":"Oct. 24","v":141801,"i":2},{"c":"Oct. 24","v":141264,"i":3}]},"mark":{"type":"line","color":"#8f9098","strokeWidth":1.3},"encoding":{"order":{"field":"i","type":"quantitative"}}},
{"data":{"values":[{"c":"Oct. 24","v":141264}]},"mark":{"type":"point","filled":true,"opacity":1,"size":121,"color":"#8f9098","shape":"M-1,-.6H1L0,.6Z"}},
{"data":{"values":[{"c":"Oct. 23","v":142109,"t":"+2,2%"}]},"mark":{"type":"text","fontSize":14.5,"fontWeight":"bold","color":"#4c9a3c"},"encoding":{"x":{"field":"c","type":"nominal","bandPosition":1,"axis":null},"text":{"field":"t"}}},
{"data":{"values":[{"c":"Oct. 23","v":134155,"t":"LA RIOJA"}]},"mark":{"type":"text","fontSize":13.5,"fontWeight":"bold","color":"#2a74b8"},"encoding":{"x":{"field":"c","type":"nominal","bandPosition":1,"axis":null},"text":{"field":"t"}}},
{"data":{"values":[{"c":"Oct. 23","v":135273,"p":["d","w","r","g","o","e"]}]},"transform":[{"flatten":["p"]}],"mark":{"type":"point","filled":true,"opacity":1,"size":576},"encoding":{"x":{"field":"c","type":"nominal","bandPosition":1,"axis":null},"shape":{"field":"p","type":"nominal","legend":null},"color":{"field":"p","type":"nominal","legend":null}}}
]}]}
],"bounds":"flush","spacing":0},
{"width":220,"height":1,"data":{"values":[{}]},"mark":{"type":"text","text":""}},
{"vconcat":[
{"width":1,"height":45,"data":{"values":[{}]},"mark":{"type":"text","text":""}},
{"width":188,"height":1,"view":{"fill":"#8b8f96","stroke":null},"data":{"values":[{}]},"mark":{"type":"text","text":""}},
{"hconcat":[
{"width":1,"height":337,"view":{"fill":"#8b8f96","stroke":null},"data":{"values":[{}]},"mark":{"type":"text","text":""}},
{"vconcat":[
{"hconcat":[
{"width":97,"height":23,"view":{"fill":"#ffe800","stroke":null},"data":{"values":[{}]},"mark":{"type":"text","text":"EMPRESAS","fontWeight":"bold","fontSize":15,"color":"#1c3d6e"}},
{"width":2,"height":23,"data":{"values":[{}]},"mark":{"type":"text","text":"Número","align":"left","dx":6,"fontSize":16,"color":"#33486e"}}
],"bounds":"flush","spacing":0},
{"width":1,"height":61.3,"data":{"values":[{}]},"mark":{"type":"text","text":""}},
{"width":188,"height":273.4,"resolve":{"scale":{"x":"independent"}},"layer":[
{"data":{"values":[{"c":"2022"},{"c":"2023"}]},"mark":{"type":"text","text":""},"encoding":{"x":{"field":"c","type":"nominal","scale":{"type":"band","domain":["2022","2023","_"],"range":[54.7,249.7],"padding":0},"axis":{"title":null,"offset":2,"tickSize":18,"labelPadding":-5.7,"labelExpr":"datum.value=='_'?'':datum.label"}}}},
{"data":{"values":[{"c":"2022","v":22532,"t":"22.532"},{"c":"2023","v":21178,"t":"21.178"}]},"encoding":{"x":{"field":"c","type":"nominal","scale":{"domain":["2022","2023"],"range":[51,187.8],"padding":0},"axis":null},"y":{"field":"v","type":"quantitative","scale":{"domain":[20000,23000]},"axis":{"title":null,"values":[20000,20500,21000,21500,22000,22500,23000],"offset":-53,"tickSize":49,"labelPadding":-44,"labelOffset":-3,"labelExpr":"replace(format(datum.value,','),',','.')"}}},
"layer":[
{"mark":{"type":"bar","size":40.4},"encoding":{"y2":{"datum":20000},"color":{"condition":{"test":"datum.c=='2022'","value":"#4597d3"},"value":"#0071bb"}}},
{"transform":[{"filter":"datum.c=='2022'"}],"mark":{"type":"text","baseline":"bottom","dy":-3,"fontSize":16,"color":"#4b9ad5"},"encoding":{"text":{"field":"t"}}},
{"transform":[{"filter":"datum.c=='2023'"}],"mark":{"type":"text","baseline":"bottom","dy":-5,"fontSize":17,"fontWeight":"bold","color":"#1c6db5"},"encoding":{"text":{"field":"t"}}},
{"data":{"values":[{"c":"2022","v":22808,"i":0},{"c":"2022","v":23000,"i":1},{"c":"2023","v":23000,"i":2},{"c":"2023","v":21587,"i":3}]},"mark":{"type":"line","color":"#8f9098","strokeWidth":1.3},"encoding":{"order":{"field":"i","type":"quantitative"}}},
{"data":{"values":[{"c":"2023","v":21587}]},"mark":{"type":"point","filled":true,"opacity":1,"size":121,"color":"#8f9098","shape":"M-1,-.6H1L0,.6Z"}},
{"data":{"values":[{"c":"2022","v":23181,"t":"-6,0%"}]},"mark":{"type":"text","dx":-3,"fontSize":15,"fontWeight":600,"color":"#d8233f"},"encoding":{"x":{"field":"c","type":"nominal","bandPosition":1,"axis":null},"text":{"field":"t"}}},
{"data":{"values":[{"c":"2022","v":19660,"t":"LA RIOJA"}]},"mark":{"type":"text","fontSize":13.5,"fontWeight":"bold","color":"#2a74b8"},"encoding":{"x":{"field":"c","type":"nominal","bandPosition":1,"axis":null},"text":{"field":"t"}}},
{"data":{"values":[{"c":"2022","v":19489,"t":"BELÉN TRINCADO / CINCO DÍAS"}]},"mark":{"type":"text","dx":-24,"fontSize":10.6,"color":"#5a6a80"},"encoding":{"x":{"field":"c","type":"nominal","bandPosition":1,"axis":null},"text":{"field":"t"}}},
{"data":{"values":[{"c":"2022","v":20110,"p":["d","w","r","g","o","e"]}]},"transform":[{"flatten":["p"]}],"mark":{"type":"point","filled":true,"opacity":1,"size":576},"encoding":{"x":{"field":"c","type":"nominal","bandPosition":1,"axis":null},"shape":{"field":"p","type":"nominal","legend":null},"color":{"field":"p","type":"nominal","legend":null}}}
]}]}
],"bounds":"flush","spacing":0}
],"bounds":"flush","spacing":0}
],"bounds":"flush","spacing":0}
],"bounds":"flush","spacing":0}
],"bounds":"flush","spacing":0}
],"bounds":"flush","spacing":0}
]}
